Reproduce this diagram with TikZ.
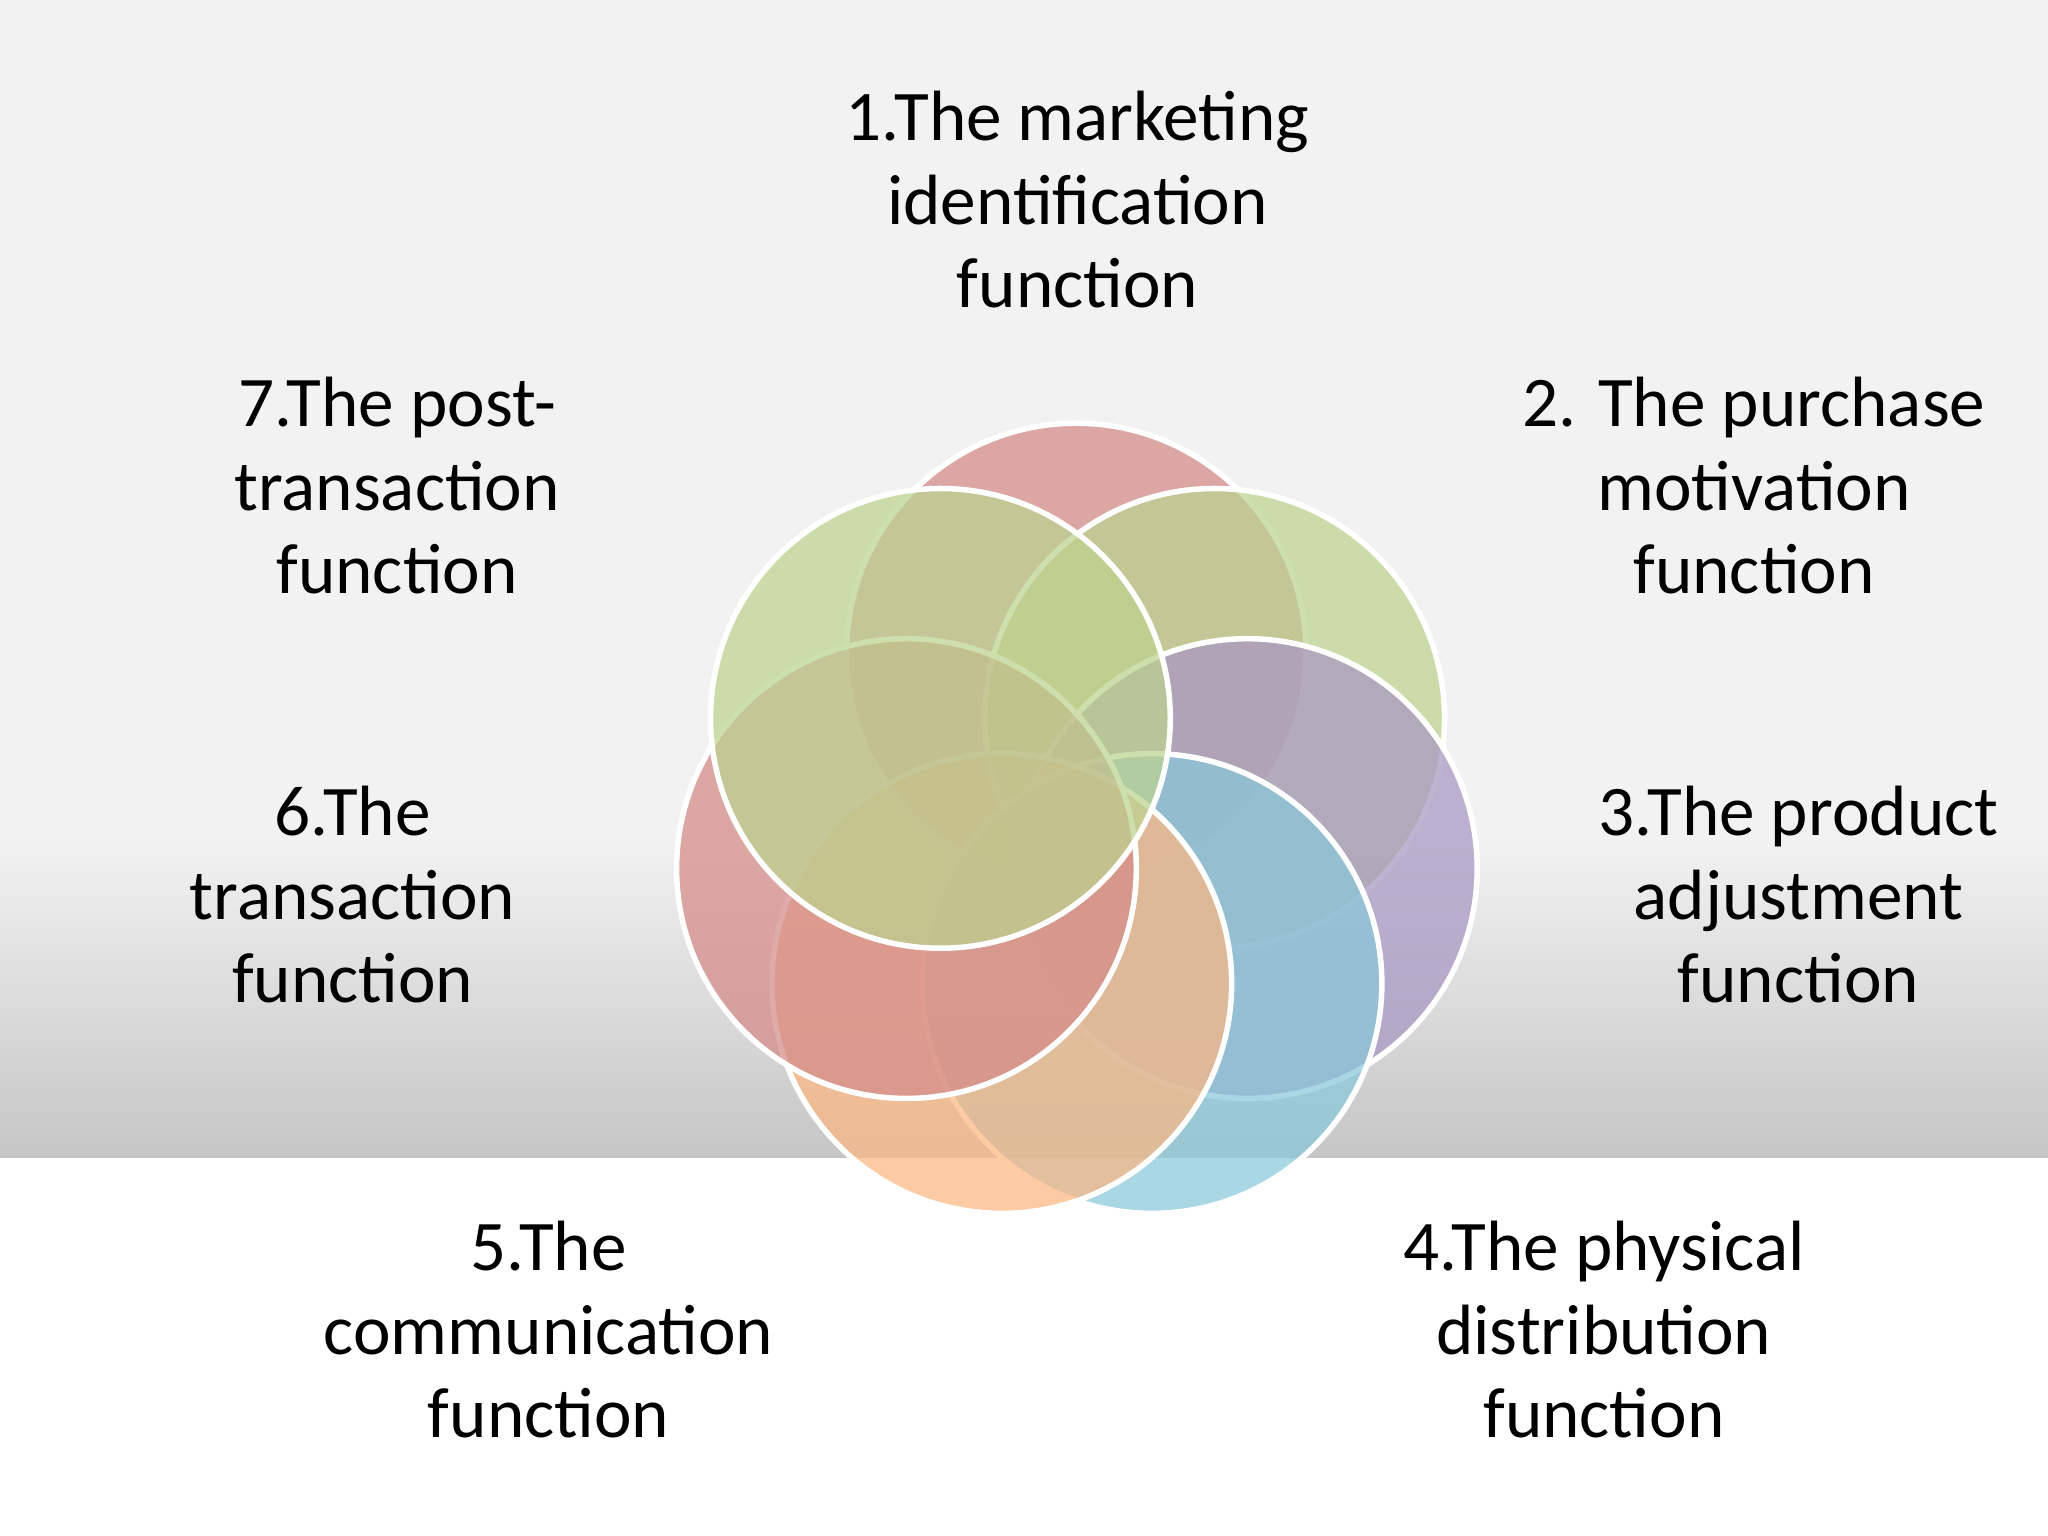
\documentclass[tikz,border=0pt]{standalone}
\usepackage{fontspec}
\setmainfont{Carlito}
\begin{document}
\begin{tikzpicture}[x=0.01cm,y=-0.01cm,
  lab/.style={align=center,font=\fontsize{15.5}{18.2}\selectfont,text=black},
  petal/.style={draw=white,line width=1.2pt,fill opacity=0.72}]
\useasboundingbox (0,0) rectangle (1568,1176);
\fill[white] (0,0) rectangle (1568,1176);
\fill[gray!10] (0,0) rectangle (1568,640);
\shade[top color=gray!10,bottom color=gray!45] (0,640) rectangle (1568,886);
\definecolor{cpink}{HTML}{D48A88}
\definecolor{cgreen}{HTML}{BCD38F}
\definecolor{cpurple}{HTML}{A996C2}
\definecolor{cblue}{HTML}{88C8DA}
\definecolor{corange}{HTML}{FBB782}
\path[petal,fill=cpink]   (824,500) circle (176) coordinate (c1);
\path[petal,fill=cgreen]  (930,550) circle (176);
\path[petal,fill=cpurple] (955,665) circle (176);
\path[petal,fill=cblue]   (882,753) circle (176);
\path[petal,fill=corange] (767,753) circle (176);
\path[petal,fill=cpink]   (694,665) circle (176);
\path[petal,fill=cgreen]  (720,550) circle (176);
\node[lab] (t1) at (825,153) {1.The marketing\\identification\\function};
\node[lab] (t2) at (1343,372) {2. The purchase\\motivation\\function};
\node[lab] (t3) at (1377,685) {3.The product\\adjustment\\function};
\node[lab] (t4) at (1228,1018) {4.The physical\\distribution\\function};
\node[lab] (t5) at (420,1018) {5.The\\communication\\function};
\node[lab] (t6) at (270,685) {6.The\\transaction\\function};
\node[lab] (t7) at (304,372) {7.The post-\\transaction\\function};
\end{tikzpicture}
\end{document}
